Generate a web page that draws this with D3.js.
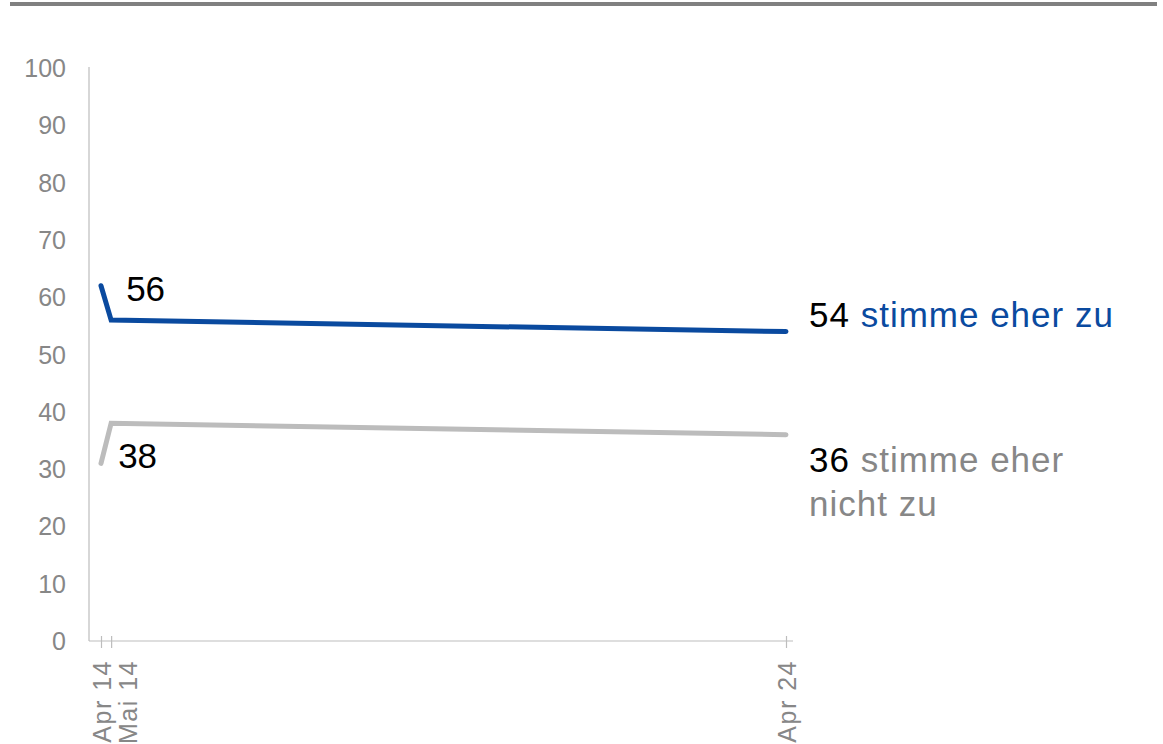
<!DOCTYPE html>
<html>
<head>
<meta charset="utf-8">
<script src="https://cdn.jsdelivr.net/npm/d3@7"></script>
<style>
  body { margin: 0; background: #fff; }
  svg { font-family: "Liberation Sans", Arial, sans-serif; }
</style>
</head>
<body>
<div id="chart"></div>
<script>
// survey waves and values
const dates = ['2014-04-01', '2014-05-25', '2024-04-01'];
const tickLabels = ['Apr 14', 'Mai 14', 'Apr 24'];
const agree = [62, 56, 54];
const disagree = [31, 38, 36];
const yTicks = [0, 10, 20, 30, 40, 50, 60, 70, 80, 90, 100];

var width = 1163,
    height = 744;

var blue = '#0a4a9f',
    grayLine = '#bcbcbc',
    grayText = '#878787',
    axisGray = '#bdbdbd';

var parse = d3.timeParse('%Y-%m-%d');
var xDates = dates.map(parse);

var svg = d3.select('#chart')
  .append('svg')
    .attr('width', width)
    .attr('height', height);

// top rule
svg.append('rect')
  .attr('x', 10).attr('y', 2)
  .attr('width', 1147).attr('height', 4)
  .attr('fill', '#808080');

var x = d3.scaleTime()
  .domain([xDates[0], xDates[2]])
  .range([101, 786]);

var y = d3.scaleLinear()
  .domain([0, 100])
  .range([641, 68]);

// y axis: line + labels only
svg.append('line')
  .attr('x1', 89).attr('x2', 89)
  .attr('y1', y(100) - 1).attr('y2', y(0))
  .attr('stroke', axisGray).attr('stroke-width', 1.2);

svg.selectAll('.ylab')
  .data(yTicks)
  .enter().append('text')
    .attr('class', 'ylab')
    .attr('x', 66)
    .attr('y', d => y(d))
    .attr('dy', '0.36em')
    .attr('text-anchor', 'end')
    .attr('fill', grayText)
    .style('font-size', '25px')
    .text(d => d);

// x axis
var xAxis = d3.axisBottom(x)
  .tickValues(xDates)
  .tickSize(7)
  .tickFormat((d, i) => tickLabels[i]);

var gx = svg.append('g')
  .attr('transform', 'translate(0,' + y(0) + ')')
  .call(xAxis);

gx.select('.domain').remove();
gx.append('line')
  .attr('x1', 89).attr('x2', 793)
  .attr('stroke', axisGray).attr('stroke-width', 1.2);
gx.selectAll('.tick line')
  .attr('y1', -5)
  .attr('stroke', axisGray).attr('stroke-width', 1.2);
gx.selectAll('.tick text')
  .attr('fill', grayText)
  .style('font-size', '25px')
  .style('letter-spacing', '1.5px')
  .style('font-family', '"Liberation Sans", Arial, sans-serif')
  .attr('text-anchor', 'end')
  .attr('transform', (d, i) => 'translate(' + (i == 1 ? 16 : 0) + ',0) rotate(-90)')
  .attr('x', -19)
  .attr('y', 0)
  .attr('dy', '0.36em');

// lines
var line = d3.line()
  .x((d, i) => x(xDates[i]))
  .y(d => y(d));

svg.append('path')
  .datum(disagree)
  .attr('d', line)
  .attr('fill', 'none')
  .attr('stroke', grayLine)
  .attr('stroke-width', 5)
  .attr('stroke-linecap', 'round');

svg.append('path')
  .datum(agree)
  .attr('d', line)
  .attr('fill', 'none')
  .attr('stroke', blue)
  .attr('stroke-width', 5)
  .attr('stroke-linecap', 'round');

// value labels
svg.append('text')
  .attr('x', x(xDates[1]) + 15)
  .attr('y', y(agree[1]) - 19)
  .style('font-size', '35px')
  .attr('fill', '#000')
  .text(agree[1]);

svg.append('text')
  .attr('x', x(xDates[1]) + 7)
  .attr('y', y(disagree[1]) + 45)
  .style('font-size', '35px')
  .attr('fill', '#000')
  .text(disagree[1]);

// end labels
var endAgree = svg.append('text')
  .attr('x', 809)
  .attr('y', y(agree[2]) - 5)
  .style('font-size', '35px')
  .style('letter-spacing', '1px');
endAgree.append('tspan').attr('fill', '#000').text(agree[2] + ' ');
endAgree.append('tspan').attr('fill', blue).text('stimme eher zu');

var endDis = svg.append('text')
  .attr('x', 809)
  .attr('y', y(disagree[2]) + 37)
  .style('font-size', '35px')
  .style('letter-spacing', '1px');
endDis.append('tspan').attr('fill', '#000').text(disagree[2] + ' ');
endDis.append('tspan').attr('fill', grayText).text('stimme eher');
endDis.append('tspan').attr('fill', grayText)
  .attr('x', 809).attr('dy', 44).text('nicht zu');
</script>
</body>
</html>
